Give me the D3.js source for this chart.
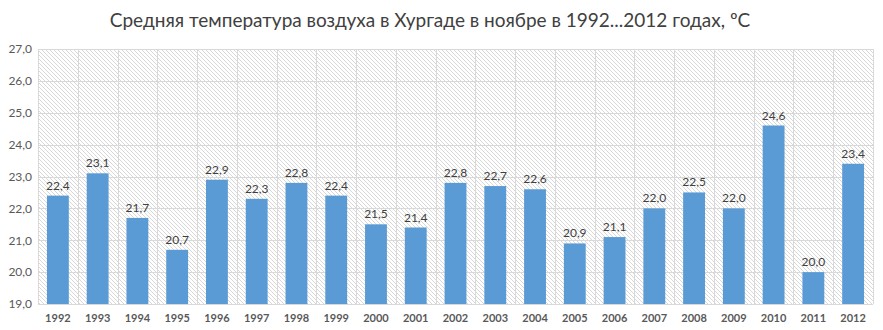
<!DOCTYPE html>
<html><head><meta charset="utf-8">
<script src="https://cdn.jsdelivr.net/npm/d3@7"></script>
<style>body{margin:0;background:#fff}svg{display:block}</style>
</head><body>
<script>
const years = ["1992","1993","1994","1995","1996","1997","1998","1999","2000","2001","2002","2003","2004","2005","2006","2007","2008","2009","2010","2011","2012"];
const temps = [22.4,23.1,21.7,20.7,22.9,22.3,22.8,22.4,21.5,21.4,22.8,22.7,22.6,20.9,21.1,22.0,22.5,22.0,24.6,20.0,23.4];
const yTicks = [19,20,21,22,23,24,25,26,27];
const title = "Средняя температура воздуха в Хургаде в ноябре в 1992...2012 годах, ºС";

const W = 883, H = 330;
const m = {left:38, right:10, top:49, bottom:26};
const svg = d3.select("body").append("svg").attr("width",W).attr("height",H);
const defs = svg.append("defs");
const pat = defs.append("pattern").attr("id","hatch").attr("patternUnits","userSpaceOnUse")
  .attr("width",4).attr("height",4);
pat.append("rect").attr("width",4).attr("height",4).attr("fill","#fff");
pat.append("path").attr("d","M-1,-1 L5,5 M-1,3 L1,5 M3,-1 L5,1").attr("stroke","#d4d4d4").attr("stroke-width",0.9);

const x = d3.scaleBand().domain(years).range([m.left, W-m.right]).paddingInner(0.45).paddingOuter(0.225);
const y = d3.scaleLinear().domain([19,27]).range([H-m.bottom, m.top]);

svg.append("rect").attr("x",m.left).attr("y",m.top).attr("width",W-m.right-m.left).attr("height",H-m.bottom-m.top).attr("fill","url(#hatch)");

// horizontal grid
svg.append("g").selectAll("line").data(yTicks).join("line")
  .attr("x1",m.left).attr("x2",W-m.right).attr("y1",d=>Math.round(y(d))+0.5).attr("y2",d=>Math.round(y(d))+0.5)
  .attr("stroke","#d9d9d9").attr("stroke-width",1);
// vertical grid (band boundaries)
const step = x.step();
const bounds = d3.range(years.length+1).map(i=>m.left + (W-m.right-m.left)*i/years.length);
svg.append("g").selectAll("line").data(bounds).join("line")
  .attr("x1",d=>Math.round(d)+0.5).attr("x2",d=>Math.round(d)+0.5).attr("y1",m.top).attr("y2",H-m.bottom)
  .attr("stroke","#d9d9d9").attr("stroke-width",1);

// bars
svg.append("g").selectAll("rect").data(years).join("rect")
  .attr("x",d=>x(d)).attr("width",x.bandwidth())
  .attr("y",(d,i)=>y(temps[i])).attr("height",(d,i)=>y(19)-y(temps[i]))
  .attr("fill","#5b9bd5");

// value labels
svg.append("g").selectAll("text").data(years).join("text")
  .attr("x",d=>x(d)+x.bandwidth()/2).attr("y",(d,i)=>y(temps[i])-6)
  .attr("text-anchor","middle").attr("font-family","Lato, 'Open Sans', sans-serif").attr("font-size",12)
  .attr("fill","#404040").text((d,i)=>temps[i].toFixed(1).replace(".",","));

// bottom axis line
svg.append("line").attr("x1",m.left).attr("x2",W-m.right).attr("y1",H-m.bottom+0.5).attr("y2",H-m.bottom+0.5).attr("stroke","#d9d9d9");

// y axis
const ya = d3.axisLeft(y).tickValues(yTicks).tickSize(0).tickPadding(6).tickFormat(d=>d.toFixed(1).replace(".",","));
svg.append("g").attr("transform",`translate(${m.left},0)`).call(ya)
  .call(g=>g.select(".domain").remove())
  .selectAll("text").attr("font-family","Lato, 'Open Sans', sans-serif").attr("font-size",12).attr("fill","#595959");

// x axis
const xa = d3.axisBottom(x).tickSize(0).tickPadding(10);
svg.append("g").attr("transform",`translate(0,${H-m.bottom})`).call(xa)
  .call(g=>g.select(".domain").remove())
  .selectAll("text").attr("font-family","Lato, 'Open Sans', sans-serif").attr("font-size",11).attr("font-weight","bold").attr("fill","#595959");

// title
svg.append("text").attr("x",430).attr("y",27).attr("text-anchor","middle")
  .attr("font-family","Lato, 'Open Sans', sans-serif").attr("font-size",19).attr("fill","#404040").text(title);
</script>
</body></html>
